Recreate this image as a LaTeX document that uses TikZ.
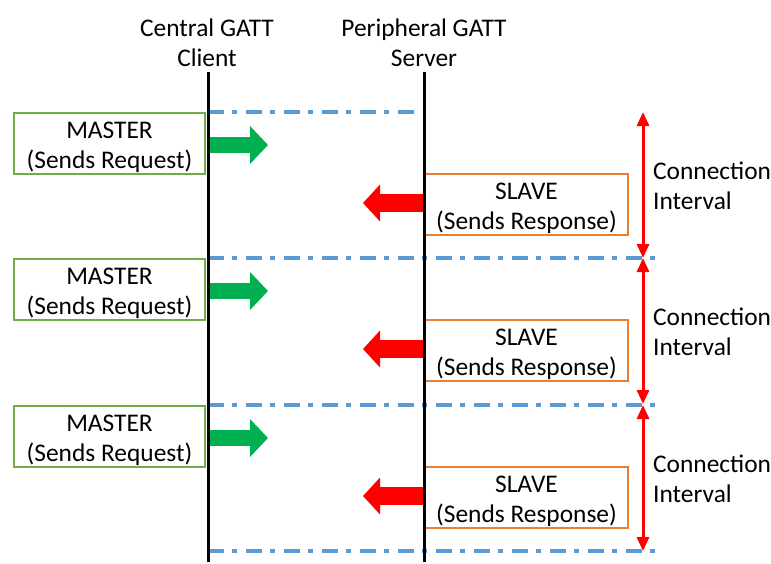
\documentclass[tikz,border=0pt]{standalone}
\usepackage{fontspec}
\setmainfont{Carlito}
\usetikzlibrary{arrows.meta}
\definecolor{lineblue}{HTML}{5B9BD5}
\definecolor{mgreen}{HTML}{70AD47}
\definecolor{agreen}{HTML}{00B050}
\definecolor{sorange}{HTML}{ED7D31}
\newcommand{\topstrut}{\rule{0pt}{24.4pt}}
\tikzset{
  lifeline/.style={line width=3pt, black},
  ticker/.style={line width=4pt, lineblue, dash pattern=on 16pt off 8pt on 5pt off 9pt},
  masterbox/.style={draw=mgreen, line width=1.4pt, minimum width=191pt, minimum height=61pt, inner sep=0pt, align=center},
  slavebox/.style={draw=sorange, line width=1.4pt, minimum width=203pt, minimum height=61pt, inner sep=0pt, align=center},
  reqarrow/.style={agreen, line width=16pt, -{Triangle[length=18pt,width=37pt]}},
  resarrow/.style={red, line width=18pt, -{Triangle[length=17pt,width=36pt]}},
  interval/.style={red, line width=3pt, {Triangle[length=14pt,width=12pt]}-{Triangle[length=14pt,width=12pt]}},
  label/.style={inner sep=0pt, align=center},
  cilabel/.style={inner sep=0pt, align=left, anchor=west}
}
\begin{document}
\begin{tikzpicture}[x=1pt,y=-1pt, font=\fontsize{25.4}{30}\selectfont]
\useasboundingbox (0,0) rectangle (771,563);
% headers
\node[label] (hc) at (207,43) {Central GATT\\Client};
\node[label] (hs) at (424,43) {Peripheral GATT\\Server};
% ticks
\coordinate (t0a) at (208,112); \coordinate (t0b) at (415,112);
\draw[ticker] (t0a) -- (t0b);
\foreach \i/\y in {1/258,2/405,3/551}{
  \coordinate (t\i a) at (208,\y); \coordinate (t\i b) at (658,\y);
  \draw[ticker] (t\i a) -- (t\i b);
}
% periods
\foreach \i/\o/\p in {1/0/0,2/146/1,3/293/2}{
  \node[masterbox] (m\i) at (109.5,143.5+\o) {\topstrut MASTER\\(Sends Request)};
  \node[slavebox] (s\i) at (526.5,204.5+\o) {\topstrut SLAVE\\(Sends Response)};
  \coordinate (ga\i) at (208,145+\o); \coordinate (gb\i) at (268,145+\o);
  \draw[reqarrow] (ga\i) -- (gb\i);
  \coordinate (ra\i) at (424,203+\o); \coordinate (rb\i) at (363,203+\o);
  \draw[resarrow] (ra\i) -- (rb\i);
  \coordinate (ia\i) at (643,112+\o); \coordinate (ib\i) at (643,258+\o);
  \draw[interval] (ia\i) -- (ib\i);
  \node[cilabel] (c\i) at (653,185.5+\o) {Connection\\Interval};
}
% lifelines
\coordinate (ct) at (208,72); \coordinate (cb) at (208,562);
\coordinate (st) at (424,72); \coordinate (sb) at (424,562);
\draw[lifeline] (ct) -- (cb);
\draw[lifeline] (st) -- (sb);
\end{tikzpicture}
\end{document}
